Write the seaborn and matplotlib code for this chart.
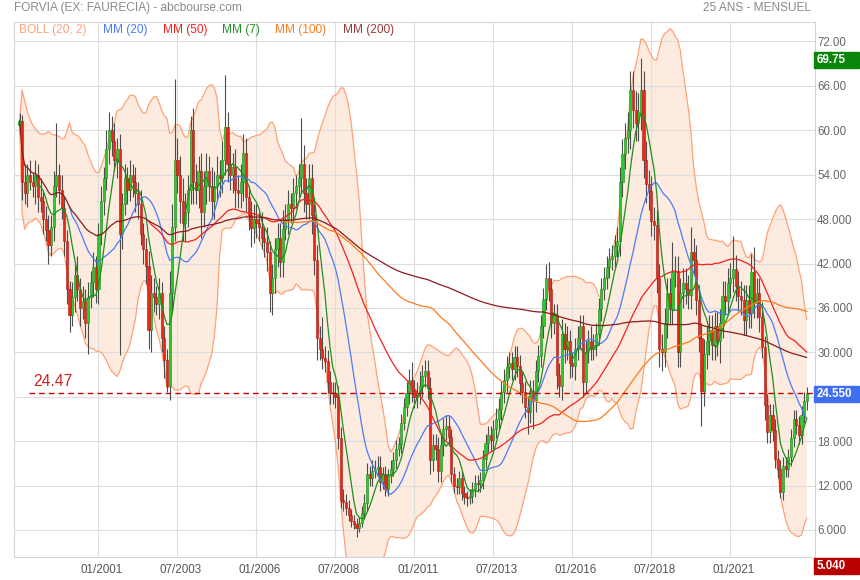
import matplotlib
matplotlib.use("Agg")
import matplotlib.pyplot as plt
import matplotlib.transforms as mtransforms
from matplotlib.patches import Rectangle
import numpy as np
import pandas as pd
import seaborn as sns

# monthly candles, first one is 07/1998
first_open = 60.7
closes = [
    61.3, 53.0, 51.5, 54.0, 53.0, 52.5,
    54.0, 51.0, 50.5, 48.0, 46.5, 44.5, 47.0, 52.5, 54.0, 52.0, 49.5, 45.0,
    38.5, 35.0, 37.5, 40.5, 38.5, 36.0, 37.0, 34.0, 37.5, 39.5, 41.5, 38.5,
    46.0, 50.5, 53.5, 57.5, 60.0, 58.5, 56.0, 57.5, 46.0, 50.0, 53.5, 52.0,
    54.0, 53.0, 51.5, 50.0, 46.0, 44.0, 41.7, 33.0, 38.0, 37.5, 36.5, 38.0,
    32.0, 29.0, 25.5, 38.0, 47.0, 56.0, 54.0, 50.5, 47.5, 49.0, 52.0, 60.0,
    53.0, 52.0, 54.5, 49.0, 52.5, 54.5, 52.5, 50.5, 52.5, 54.0, 53.5, 56.0,
    60.5, 55.5, 54.0, 55.0, 52.0, 51.5, 53.0, 57.0, 51.0, 48.5, 46.8, 48.0,
    47.5, 47.0, 45.5, 44.9, 43.5, 38.0, 40.0, 44.0, 45.5, 42.2, 46.7, 48.0,
    50.0, 49.5, 51.5, 52.5, 53.5, 55.5, 51.5, 50.0, 53.5, 48.5, 42.5, 32.0,
    30.5, 29.3, 28.8, 26.0, 24.5, 24.5, 24.0, 18.4, 10.0, 9.8, 9.0, 8.0,
    7.2, 6.8, 6.3, 7.0, 8.3, 9.6, 13.5, 13.0, 14.0, 14.3, 14.5, 12.5,
    13.5, 11.6, 13.3, 14.3, 15.5, 17.0, 17.6, 20.5, 22.6, 24.5, 26.2, 24.8,
    24.0, 24.5, 25.5, 26.8, 27.5, 25.2, 15.5, 17.5, 17.0, 14.0, 17.5, 19.6,
    20.0, 18.5, 13.5, 12.0, 11.8, 13.0, 11.0, 10.5, 10.3, 10.6, 11.5, 12.4,
    12.2, 12.8, 15.6, 17.8, 18.8, 18.2, 19.6, 21.0, 22.4, 24.6, 26.2, 28.0,
    28.5, 27.8, 29.4, 28.2, 25.8, 24.6, 22.6, 22.0, 24.8, 23.5, 27.5, 29.5,
    33.5, 37.2, 40.0, 38.5, 34.0, 35.0, 27.0, 25.5, 32.5, 30.5, 31.5, 28.5,
    28.2, 30.5, 32.0, 33.5, 26.0, 30.0, 31.5, 30.5, 31.0, 32.5, 35.8, 38.6,
    40.0, 41.5, 42.6, 43.0, 44.4, 45.0, 53.0, 56.8, 59.0, 60.0, 65.5, 62.8,
    61.0, 62.5, 65.5, 56.0, 52.7, 51.8, 47.7, 47.2, 40.0, 30.5, 30.0, 34.0,
    38.0, 35.8, 40.8, 41.0, 30.0, 38.0, 39.4, 38.5, 37.8, 43.5, 42.5, 37.1,
    32.0, 24.8, 29.8, 31.6, 33.0, 31.0, 33.5, 31.5, 33.9, 37.6, 37.0, 39.4,
    40.1, 41.2, 39.0, 37.6, 37.1, 34.4, 37.1, 35.3, 40.8, 36.7, 38.0, 34.8,
    30.7, 22.9, 19.3, 21.5, 19.5, 15.6, 14.2, 11.1, 14.7, 14.2, 15.8, 18.4,
    21.0, 20.2, 18.8, 21.6, 23.4, 24.55,
]
wick_up = [
    1.0, 0.8, 2.5, 1.5, 2.0, 1.2,
    2.0, 1.5, 2.5, 1.2, 1.8, 2.0, 1.5, 2.0, 7.0, 1.5, 2.0, 1.5,
    1.5, 1.2, 2.0, 1.5, 2.5, 1.5, 2.0, 1.5, 2.0, 1.5, 2.0, 1.5,
    1.5, 2.0, 1.5, 2.5, 2.5, 2.0, 2.5, 1.5, 2.0, 1.5, 2.0, 1.5,
    2.0, 1.5, 2.0, 1.5, 2.0, 1.5, 1.5, 2.0, 2.5, 2.0, 1.5, 2.0,
    1.5, 1.5, 1.5, 3.0, 3.0, 10.9, 3.0, 2.5, 3.0, 2.5, 2.0, 2.0,
    3.0, 2.5, 2.0, 2.5, 2.0, 2.5, 2.0, 2.5, 2.0, 2.5, 2.0, 2.5,
    7.0, 2.0, 2.5, 2.0, 2.5, 2.0, 2.5, 2.5, 2.0, 1.5, 2.0, 2.0,
    2.0, 1.5, 2.0, 1.5, 2.0, 1.5, 2.0, 1.5, 2.0, 2.0, 2.5, 2.0,
    2.0, 1.5, 2.0, 1.5, 2.0, 6.1, 2.5, 2.0, 2.0, 2.0, 1.5, 2.0,
    1.5, 4.3, 1.5, 1.5, 1.5, 1.5, 1.5, 1.5, 1.5, 1.5, 1.0, 1.0,
    0.8, 0.8, 0.8, 0.8, 1.0, 1.2, 1.5, 1.2, 1.5, 1.2, 1.5, 1.5,
    1.0, 1.2, 1.0, 1.2, 1.0, 1.2, 1.0, 1.2, 1.2, 1.5, 1.5, 2.5,
    1.5, 1.5, 2.0, 1.5, 1.5, 1.5, 1.5, 1.5, 1.5, 1.5, 1.5, 1.5,
    1.5, 1.5, 1.2, 1.0, 1.0, 1.0, 1.0, 1.0, 0.8, 1.0, 1.0, 1.0,
    1.0, 1.0, 1.2, 1.2, 1.2, 1.2, 1.2, 1.5, 1.5, 1.5, 1.5, 1.5,
    1.5, 1.5, 1.5, 1.5, 1.5, 1.5, 1.5, 1.5, 1.5, 1.5, 1.5, 1.5,
    1.5, 1.5, 2.0, 2.2, 1.5, 1.5, 1.5, 1.5, 2.0, 1.5, 2.0, 1.5,
    1.5, 1.5, 1.5, 1.5, 1.5, 1.5, 1.5, 2.0, 1.5, 1.5, 1.5, 1.5,
    1.5, 1.5, 1.5, 1.5, 1.5, 2.0, 2.0, 2.0, 2.0, 2.5, 2.5, 2.5,
    2.5, 2.5, 4.25, 2.5, 2.5, 2.0, 2.0, 2.0, 2.0, 2.0, 2.0, 2.0,
    2.0, 2.0, 4.1, 2.0, 2.0, 2.0, 2.0, 2.0, 2.0, 3.5, 2.0, 2.0,
    2.0, 2.0, 2.0, 2.0, 2.0, 2.0, 2.0, 2.0, 2.0, 2.0, 2.0, 2.0,
    2.0, 4.5, 2.0, 2.0, 2.0, 2.0, 2.0, 2.0, 2.5, 3.5, 2.0, 2.0,
    2.0, 1.5, 1.5, 1.5, 1.5, 1.5, 1.2, 1.2, 1.2, 1.2, 1.2, 1.2,
    1.2, 1.2, 1.2, 1.2, 1.2, 0.8,
]
wick_down = [
    1.2, 2.4, 1.5, 1.8, 1.0, 1.5,
    2.5, 2.0, 1.5, 2.0, 1.5, 2.5, 1.5, 2.0, 1.5, 2.0, 1.5, 2.0,
    2.0, 2.2, 1.5, 2.0, 1.5, 2.5, 1.5, 2.0, 4.2, 1.5, 2.0, 1.8,
    2.0, 1.5, 2.0, 1.5, 2.0, 2.0, 1.5, 2.5, 16.4, 2.0, 1.5, 2.0,
    1.5, 2.0, 2.5, 2.0, 1.5, 2.0, 2.5, 2.5, 3.0, 2.0, 1.5, 2.0,
    2.0, 2.5, 0.8, 2.0, 2.5, 2.0, 2.5, 3.0, 2.5, 2.5, 2.0, 2.0,
    3.0, 2.0, 2.5, 3.5, 2.0, 2.5, 2.0, 2.5, 2.5, 2.0, 2.5, 2.0,
    2.0, 2.5, 2.0, 2.5, 2.5, 2.0, 2.0, 2.5, 2.0, 2.0, 2.5, 2.0,
    2.0, 2.0, 1.5, 2.0, 2.5, 2.5, 3.0, 2.0, 2.5, 2.0, 2.0, 1.5,
    2.0, 2.0, 1.5, 2.0, 1.5, 2.0, 2.5, 2.0, 2.0, 2.5, 2.0, 3.0,
    1.5, 1.6, 1.5, 1.5, 1.5, 1.5, 1.5, 1.5, 1.0, 1.2, 1.0, 0.8,
    0.8, 0.7, 1.26, 0.6, 0.6, 0.8, 1.0, 1.0, 1.0, 1.0, 1.0, 1.2,
    1.0, 1.0, 1.0, 1.0, 1.0, 1.2, 1.0, 1.2, 1.0, 1.2, 1.5, 1.5,
    1.5, 1.5, 1.5, 1.5, 1.5, 1.5, 2.0, 1.5, 1.5, 1.5, 1.5, 1.5,
    1.5, 1.2, 1.2, 1.0, 1.0, 1.0, 1.0, 1.0, 1.0, 0.8, 1.0, 1.0,
    1.0, 1.0, 1.2, 1.2, 1.2, 1.5, 1.2, 1.2, 1.5, 1.5, 1.5, 1.5,
    1.5, 1.5, 1.5, 1.5, 1.5, 1.5, 1.5, 3.0, 1.5, 3.8, 1.5, 1.5,
    1.5, 1.5, 1.5, 1.5, 2.0, 1.5, 2.0, 1.5, 2.0, 2.0, 1.5, 2.0,
    1.5, 2.0, 1.5, 1.5, 2.0, 1.5, 1.5, 1.5, 1.5, 1.5, 1.5, 1.5,
    1.5, 1.5, 1.5, 1.5, 1.5, 1.5, 2.0, 2.0, 2.0, 2.0, 2.5, 2.5,
    2.5, 2.5, 2.5, 2.5, 2.5, 2.5, 2.0, 2.0, 2.0, 2.5, 2.5, 2.0,
    2.0, 2.0, 2.0, 2.0, 2.0, 2.0, 2.0, 2.0, 2.0, 2.0, 2.0, 2.0,
    2.0, 4.8, 2.0, 2.0, 2.0, 2.0, 2.0, 2.0, 3.0, 2.0, 2.0, 2.0,
    2.0, 2.0, 2.0, 2.0, 2.0, 2.0, 2.0, 2.0, 2.0, 2.0, 2.0, 2.0,
    1.5, 2.0, 1.5, 1.5, 1.5, 1.2, 1.2, 0.8, 1.0, 1.0, 1.0, 1.2,
    1.2, 1.2, 1.2, 1.2, 1.2, 1.2,
]

date_ticks = [30, 60, 90, 120, 150, 180, 210, 240, 270]  # month index from 07/1998
date_labels = ["01/2001", "07/2003", "01/2006", "07/2008", "01/2011",
               "07/2013", "01/2016", "07/2018", "01/2021"]
price_ticks = [6, 12, 18, 24, 30, 36, 42, 48, 54, 60, 66, 72]
price_labels = ["6.000", "12.000", "18.000", "", "30.000", "36.000",
                "42.000", "48.000", "54.00", "60.00", "66.00", "72.00"]
ref_level = 24.47

ma_specs = [("BOLL (20, 2)", None, "#ffa277"),
            ("MM (20)", 20, "#4a7cf7"),
            ("MM (50)", 50, "#f42020"),
            ("MM (7)", 7, "#1d8f1d"),
            ("MM (100)", 100, "#ff7a1a"),
            ("MM (200)", 200, "#8b1c1c")]
legend_x = [19, 103, 163, 222, 275, 343]

assert len(closes) == len(wick_up) == len(wick_down) == 300

df = pd.DataFrame({"close": closes})
df["open"] = [first_open] + closes[:-1]
df["high"] = df[["open", "close"]].max(axis=1) + np.array(wick_up)
df["low"] = df[["open", "close"]].min(axis=1) - np.array(wick_down)
idx = np.arange(len(df))

mid = df["close"].rolling(20, min_periods=1).mean()
sd = df["close"].rolling(20, min_periods=1).std(ddof=0)
upper, lower = mid + 2 * sd, mid - 2 * sd

sns.set_theme(style="white")
plt.rcParams["font.family"] = ["Liberation Sans", "DejaVu Sans"]

W, H = 860, 580
fig = plt.figure(figsize=(W / 100, H / 100), dpi=100)
ax = fig.add_axes([14 / W, (H - 557) / H, 801 / W, 535 / H])

ppm = 2.633  # pixels per month
ax.set_xlim((14 - 19.5) / ppm, (815 - 19.5) / ppm)
ppu = (530 - 41.5) / 66  # pixels per price unit
ax.set_ylim(6 - (557 - 530) / ppu, 72 + (41.5 - 22) / ppu)

# bollinger fill under grid
ax.fill_between(idx, lower, upper, color="#fdebdf", lw=0, zorder=0.5)
ax.hlines(price_ticks, *ax.get_xlim(), color="#dddddd", lw=0.8, zorder=1)
ax.vlines(date_ticks, *ax.get_ylim(), color="#dddddd", lw=0.8, zorder=1)
ax.plot(idx, upper, color="#ffa277", lw=0.9, zorder=2)
ax.plot(idx, lower, color="#ffa277", lw=0.9, zorder=2)

# candles
up = df["close"] >= df["open"]
body = (df["close"] - df["open"]).to_numpy()
body = np.where(np.abs(body) < 0.15, np.where(body < 0, -0.15, 0.15), body)
ax.vlines(idx, df["low"], df["high"], color="#4d4d4d", lw=0.8, zorder=3)
ax.bar(idx[up], body[up], bottom=df["open"][up], width=0.8,
       color="#28cc28", edgecolor="#1b8a1b", linewidth=0.4, zorder=4)
ax.bar(idx[~up], body[~up], bottom=df["open"][~up], width=0.8,
       color="#ee2414", edgecolor="#a81a10", linewidth=0.4, zorder=4)

# moving averages
for name, win, col in ma_specs[1:]:
    mp = 1 if win == 200 else win
    ma = df["close"].rolling(win, min_periods=mp).mean().dropna()
    sns.lineplot(x=ma.index, y=ma.values, color=col, lw=0.9, ax=ax,
                 estimator=None, zorder=5)

ax.hlines(ref_level, (29 - 19.5) / ppm, ax.get_xlim()[1], color="#c80000",
          lw=1, linestyles=(0, (4, 3)), zorder=6)
ax.text((33 - 19.5) / ppm, ref_level + 0.6, f"{ref_level:.2f}", color="#cc2222",
        fontsize=11.3, va="bottom", ha="left", zorder=6)

for s in ax.spines.values():
    s.set_color("#d4d4d4")
    s.set_linewidth(0.8)

ax.yaxis.tick_right()
ax.set_yticks(price_ticks)
ax.set_yticklabels(price_labels)
ax.set_xticks(date_ticks)
ax.set_xticklabels(date_labels)
ax.tick_params(axis="y", length=0, pad=1.5, labelsize=8.3, labelcolor="#666666")
ax.tick_params(axis="x", length=0, pad=5, labelsize=8.4, labelcolor="#555555")
shift = mtransforms.ScaledTranslation(3.5 / 100, 0, fig.dpi_scale_trans)
for lab in ax.get_xticklabels():
    lab.set_transform(lab.get_transform() + shift)
ax.set_xlabel("")
ax.set_ylabel("")

# value boxes at the right
blend = mtransforms.blended_transform_factory(fig.transFigure, ax.transData)
box_w = 45 / W
box_h = 16 / ppu
hi_val = df["high"].max()
last_val = df["close"].iloc[-1]
lo_val = df["low"].min()
for val, txt, col, dy in [(hi_val, f"{hi_val:.2f}", "#0a870a", -0.25),
                          (last_val, f"{last_val:.3f}", "#3f6ff0", -0.2)]:
    fig.patches.append(Rectangle((814 / W, val + dy - box_h / 2), box_w, box_h,
                                 transform=blend, color=col, zorder=10))
    fig.text(817 / W, val + dy, txt, transform=blend, color="white", fontsize=8.3,
             fontweight="bold", va="center", ha="left", zorder=11)
fig.patches.append(Rectangle((814 / W, (H - 574) / H), box_w, 16 / H,
                             transform=fig.transFigure, color="#b80000", zorder=10))
fig.text(817 / W, (H - 566) / H, f"{lo_val:.3f}", color="white", fontsize=8.3,
         fontweight="bold", va="center", ha="left", zorder=11)

# header and legend
fig.text(14 / W, (H - 8) / H, "FORVIA (EX: FAURECIA) - abcbourse.com",
         color="#8a8a8a", fontsize=8.6, va="center", ha="left")
fig.text(811 / W, (H - 8) / H, "25 ANS - MENSUEL", color="#8a8a8a",
         fontsize=8.6, va="center", ha="right")
for (name, win, col), lx in zip(ma_specs, legend_x):
    tc = {"MM (200)": "#9a3a3a", "MM (7)": "#2a8f2a"}.get(name, col)
    fig.text(lx / W, (H - 30) / H, name, color=tc, fontsize=8.6,
             va="center", ha="left")

fig.savefig("out.png", dpi=100)
